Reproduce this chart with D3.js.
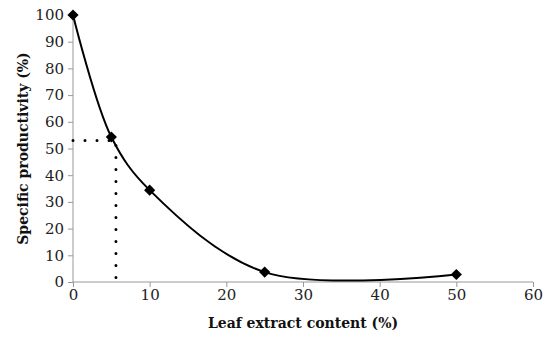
<html>
<head>
<script src="https://d3js.org/d3.v7.min.js"></script>
<style>
  body { margin: 0; background: #fff; }
  .axis text { font-family: "DejaVu Serif", serif; font-size: 15px; fill: #222; }
  .axis path, .axis line { stroke: #999; }
  .title { font-family: "DejaVu Serif", serif; font-size: 14px; font-weight: bold; fill: #111; }
</style>
</head>
<body>
<script>
  var width = 550, height = 348;
  var margin = { left: 73, top: 15, right: 17, bottom: 66 };

  // leaf extract content (%) vs specific productivity (%)
  var content = [0, 5, 10, 25, 50];
  var productivity = [100, 54.3, 34.4, 3.7, 2.8];
  // dotted guide: 50% productivity reading
  var guideX = 5.6, guideY = 53;
  var xTicks = [0, 10, 20, 30, 40, 50, 60];
  var yTicks = [0, 10, 20, 30, 40, 50, 60, 70, 80, 90, 100];

  var data = content.map((c, i) => ({ x: c, y: productivity[i] }));

  var svg = d3.select("body").append("svg")
    .attr("width", width).attr("height", height);

  var g = svg.append("g")
    .attr("transform", "translate(" + margin.left + "," + margin.top + ")");

  var w = width - margin.left - margin.right,
      h = height - margin.top - margin.bottom;

  var xScale = d3.scaleLinear().domain([0, 60]).range([0, w]);
  var yScale = d3.scaleLinear().domain([0, 100]).range([h, 0]);

  g.append("g").attr("class", "axis")
    .attr("transform", "translate(0," + h + ")")
    .call(d3.axisBottom(xScale).tickValues(xTicks).tickSize(5).tickPadding(2).tickSizeOuter(0))
    .call(a => a.select(".domain").attr("d", "M0,0H" + w));

  g.append("g").attr("class", "axis")
    .call(d3.axisLeft(yScale).tickValues(yTicks).tickSize(5).tickPadding(4).tickSizeOuter(0))
    .call(a => a.select(".domain").attr("d", "M0," + h + "V0"));

  // dotted guide lines
  g.append("path")
    .attr("d", "M" + xScale(0) + "," + yScale(guideY) + "H" + xScale(guideX) + "V" + yScale(0))
    .attr("fill", "none").attr("stroke", "#000")
    .attr("stroke-width", 3).attr("stroke-linecap", "round")
    .attr("stroke-dasharray", "0,12");

  var line = d3.line()
    .x(d => xScale(d.x)).y(d => yScale(d.y))
    .curve(d3.curveCatmullRom.alpha(0.5));

  g.append("path").datum(data)
    .attr("d", line)
    .attr("fill", "none").attr("stroke", "#000").attr("stroke-width", 2);

  g.selectAll(".pt").data(data).enter().append("path")
    .attr("class", "pt")
    .attr("d", d3.symbol().type(d3.symbolDiamond2).size(80))
    .attr("transform", d => "translate(" + xScale(d.x) + "," + yScale(d.y) + ")")
    .attr("fill", "#000");

  svg.append("text").attr("class", "title")
    .attr("x", margin.left + xScale(30)).attr("y", 328)
    .attr("text-anchor", "middle")
    .text("Leaf extract content (%)");

  svg.append("text").attr("class", "title")
    .attr("transform", "translate(28," + (margin.top + h / 2) + ") rotate(-90)")
    .attr("text-anchor", "middle")
    .text("Specific productivity (%)");
</script>
</body>
</html>
